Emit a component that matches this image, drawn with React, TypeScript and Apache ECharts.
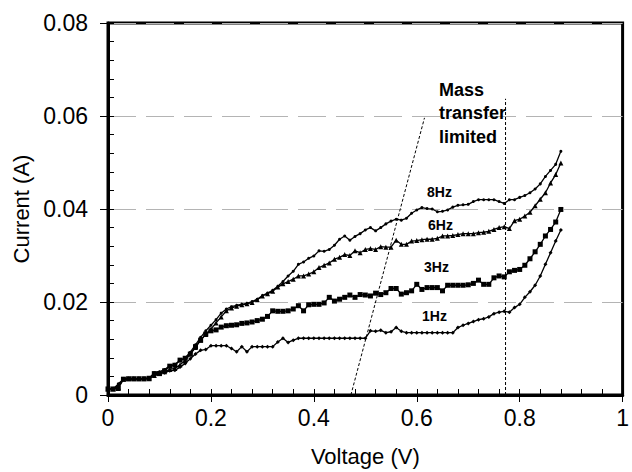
import React, { useEffect, useRef } from "react";
import * as echarts from "echarts";

const voltage = [
  0.00, 0.01, 0.02, 0.03, 0.04, 0.05, 0.06, 0.07, 0.08, 0.09,
  0.10, 0.11, 0.12, 0.13, 0.14, 0.15, 0.16, 0.17, 0.18, 0.19,
  0.20, 0.21, 0.22, 0.23, 0.24, 0.25, 0.26, 0.27, 0.28, 0.29,
  0.30, 0.31, 0.32, 0.33, 0.34, 0.35, 0.36, 0.37, 0.38, 0.39,
  0.40, 0.41, 0.42, 0.43, 0.44, 0.45, 0.46, 0.47, 0.48, 0.49,
  0.50, 0.51, 0.52, 0.53, 0.54, 0.55, 0.56, 0.57, 0.58, 0.59,
  0.60, 0.61, 0.62, 0.63, 0.64, 0.65, 0.66, 0.67, 0.68, 0.69,
  0.70, 0.71, 0.72, 0.73, 0.74, 0.75, 0.76, 0.77, 0.78, 0.79,
  0.80, 0.81, 0.82, 0.83, 0.84, 0.85, 0.86, 0.87, 0.88,
];

const current1Hz = [
  0.0013, 0.0013, 0.0020, 0.0034, 0.0035, 0.0035, 0.0035, 0.0035, 0.0036,
  0.0045, 0.0046, 0.0048, 0.0052, 0.0053, 0.0060, 0.0068, 0.0078, 0.0088, 0.0096, 0.0098, 0.0106,
  0.0106, 0.0106, 0.0106, 0.0100, 0.0093, 0.0104, 0.0093, 0.0104, 0.0104, 0.0104, 0.0104, 0.0104,
  0.0114, 0.0122, 0.0113, 0.0118, 0.0122, 0.0122, 0.0122, 0.0122, 0.0122, 0.0122, 0.0122, 0.0122, 0.0122, 0.0122, 0.0122, 0.0122, 0.0122,
  0.0122,
  0.0138, 0.0137, 0.0139, 0.0134, 0.0136, 0.0145, 0.0137, 0.0134, 0.0134,
  0.0134, 0.0134, 0.0134, 0.0134, 0.0134, 0.0134, 0.0134, 0.0134,
  0.0145, 0.0150, 0.0154, 0.0158, 0.0162, 0.0164, 0.0168, 0.0175, 0.0178, 0.0180, 0.0178, 0.0188,
  0.0195, 0.0210, 0.0222, 0.0236, 0.0256, 0.0281, 0.0306, 0.0331, 0.0355,
];

const current3Hz = [
  0.0013, 0.0013, 0.0014, 0.0034, 0.0035, 0.0035, 0.0035, 0.0035, 0.0036,
  0.0046, 0.0046, 0.0052, 0.0062, 0.0064, 0.0075, 0.0079, 0.0088, 0.0104, 0.0118, 0.0131, 0.0138,
  0.0140, 0.0146, 0.0149, 0.0150, 0.0151, 0.0154, 0.0155, 0.0157, 0.0160, 0.0163,
  0.0169, 0.0181, 0.0180, 0.0180, 0.0181, 0.0185, 0.0192, 0.0181, 0.0194, 0.0195,
  0.0195, 0.0198, 0.0210, 0.0202, 0.0206, 0.0210, 0.0215, 0.0210, 0.0216, 0.0215,
  0.0213, 0.0219, 0.0216, 0.0220, 0.0229, 0.0229, 0.0217, 0.0220, 0.0224, 0.0238,
  0.0227, 0.0231, 0.0231, 0.0231, 0.0224, 0.0236, 0.0236, 0.0236, 0.0236, 0.0237,
  0.0240, 0.0247, 0.0238, 0.0238, 0.0252, 0.0256, 0.0254, 0.0265, 0.0268, 0.0270,
  0.0279, 0.0293, 0.0308, 0.0324, 0.0342, 0.0356, 0.0372, 0.0399,
];

const current6Hz = [
  0.0013, 0.0013, 0.0016, 0.0034, 0.0035, 0.0035, 0.0035, 0.0035, 0.0035,
  0.0042, 0.0048, 0.0050, 0.0055, 0.0057, 0.0065, 0.0074, 0.0088, 0.0102, 0.0118, 0.0130, 0.0142,
  0.0155, 0.0168, 0.0181, 0.0187, 0.0191, 0.0194, 0.0196, 0.0199, 0.0205, 0.0213,
  0.0218, 0.0223, 0.0232, 0.0239, 0.0244, 0.0249, 0.0256, 0.0256, 0.0260, 0.0265,
  0.0274, 0.0279, 0.0284, 0.0292, 0.0296, 0.0302, 0.0300, 0.0310, 0.0306, 0.0313,
  0.0315, 0.0313, 0.0319, 0.0318, 0.0318, 0.0333, 0.0324, 0.0324, 0.0331, 0.0332,
  0.0334, 0.0335, 0.0335, 0.0337, 0.0342, 0.0342, 0.0343, 0.0345, 0.0347, 0.0347,
  0.0347, 0.0349, 0.0350, 0.0352, 0.0356, 0.0360, 0.0362, 0.0358, 0.0375, 0.0378,
  0.0385, 0.0393, 0.0407, 0.0421, 0.0435, 0.0456, 0.0474, 0.0499,
];

const current8Hz = [
  0.0013, 0.0013, 0.0024, 0.0034, 0.0035, 0.0035, 0.0035, 0.0035, 0.0036,
  0.0048, 0.0050, 0.0055, 0.0063, 0.0066, 0.0074, 0.0080, 0.0092, 0.0108, 0.0124, 0.0138, 0.0150,
  0.0162, 0.0176, 0.0185, 0.0190, 0.0193, 0.0195, 0.0197, 0.0201, 0.0206, 0.0214,
  0.0219, 0.0225, 0.0234, 0.0244, 0.0256, 0.0266, 0.0281, 0.0286, 0.0294, 0.0299,
  0.0310, 0.0309, 0.0313, 0.0322, 0.0335, 0.0342, 0.0333, 0.0341, 0.0347, 0.0355,
  0.0360, 0.0353, 0.0360, 0.0368, 0.0374, 0.0378, 0.0376, 0.0380, 0.0391, 0.0398,
  0.0403, 0.0401, 0.0400, 0.0394, 0.0395, 0.0398, 0.0404, 0.0408, 0.0409, 0.0410,
  0.0416, 0.0420, 0.0420, 0.0420, 0.0420, 0.0416, 0.0412, 0.0420, 0.0420, 0.0425,
  0.0429, 0.0435, 0.0443, 0.0454, 0.0470, 0.0483, 0.0496, 0.0524,
];

// Dotted guide lines (voltage, current)
const slantLineX = [0.472, 0.615];
const slantLineY = [0.0, 0.0596];
const limitLineX = [0.7725, 0.7725];
const limitLineY = [0.0, 0.0637];

const xTickLabels = ["0", "0.2", "0.4", "0.6", "0.8", "1"];
const yTickLabels = ["0", "0.02", "0.04", "0.06", "0.08"];

const FONT = "'Liberation Sans', Arial, Helvetica, sans-serif";

export default function App() {
  const ref = useRef<HTMLDivElement>(null);

  useEffect(() => {
    document.body.style.margin = "0";
    if (!ref.current) return;
    const chart = echarts.init(ref.current, undefined, { renderer: "svg" });

    const pair = (ys: number[]) => voltage.map((v, i) => [v, ys[i]]);
    const pairXY = (xs: number[], ys: number[]) => xs.map((v, i) => [v, ys[i]]);

    const lineSeries = (name: string, ys: number[], symbol: string, size: number) => ({
      name,
      type: "line",
      xAxisIndex: 0,
      yAxisIndex: 0,
      data: pair(ys),
      symbol,
      symbolSize: size,
      showSymbol: true,
      lineStyle: { color: "#000", width: 1.3 },
      itemStyle: { color: "#000", borderColor: "#000", borderWidth: 0 },
      z: 3,
    });

    const guide = (name: string, xs: number[], ys: number[]) => ({
      name,
      type: "line",
      xAxisIndex: 0,
      yAxisIndex: 0,
      data: pairXY(xs, ys),
      symbol: "none",
      lineStyle: { color: "#000", width: 1, type: [3, 2] },
      z: 2,
    });

    const labelText = (text: string, left: number, top: number, size: number) => ({
      type: "text",
      left,
      top,
      style: {
        text,
        font: `bold ${size}px ${FONT}`,
        fill: "#000",
      },
      z: 10,
    });

    chart.setOption({
      animation: false,
      backgroundColor: "#fff",
      textStyle: { fontFamily: FONT },
      grid: {
        left: 108,
        right: 4,
        top: 23,
        bottom: 76,
        show: true,
        borderColor: "#000",
        borderWidth: 3,
        backgroundColor: "transparent",
      },
      xAxis: [
        {
          type: "value",
          position: "bottom",
          min: 0,
          max: 1,
          interval: 0.2,
          name: "Voltage (V)",
          nameLocation: "middle",
          nameGap: 50,
          nameTextStyle: { fontSize: 22, color: "#000", fontFamily: FONT },
          axisLine: { show: true, onZero: false, lineStyle: { color: "#000", width: 3 } },
          axisTick: { show: true, inside: false, length: 7, lineStyle: { color: "#000", width: 1 } },
          axisLabel: {
            fontSize: 23,
            color: "#000",
            margin: 11,
            fontFamily: FONT,
            formatter: (v: number) => xTickLabels[Math.round(v / 0.2)] ?? "",
          },
          splitLine: { show: false },
        },
        {
          type: "value",
          position: "bottom",
          min: 0,
          max: 1,
          interval: 0.04,
          axisLine: { show: false },
          axisTick: { show: true, inside: true, length: 6, lineStyle: { color: "#000", width: 1 } },
          axisLabel: { show: false },
          splitLine: { show: false },
        },
      ],
      yAxis: [
        {
          type: "value",
          position: "left",
          min: 0,
          max: 0.08,
          interval: 0.02,
          name: "Current (A)",
          nameLocation: "middle",
          nameRotate: 90,
          nameGap: 75,
          nameTextStyle: { fontSize: 22, color: "#000", fontFamily: FONT },
          axisLine: { show: true, onZero: false, lineStyle: { color: "#000", width: 3 } },
          axisTick: { show: true, inside: false, length: 8, lineStyle: { color: "#000", width: 1 } },
          axisLabel: {
            fontSize: 23,
            color: "#000",
            margin: 20,
            fontFamily: FONT,
            formatter: (v: number) => yTickLabels[Math.round(v / 0.02)] ?? "",
          },
          splitLine: {
            show: true,
            lineStyle: { color: "#b4b4b4", width: 1, type: [28, 10] },
          },
        },
        {
          type: "value",
          position: "left",
          min: 0,
          max: 0.08,
          interval: 0.004,
          axisLine: { show: false },
          axisTick: { show: true, inside: true, length: 6, lineStyle: { color: "#000", width: 1 } },
          axisLabel: { show: false },
          splitLine: { show: false },
        },
      ],
      series: [
        guide("slant", slantLineX, slantLineY),
        guide("limit", limitLineX, limitLineY),
        lineSeries("1Hz", current1Hz, "diamond", 4),
        lineSeries("3Hz", current3Hz, "rect", 5),
        lineSeries("6Hz", current6Hz, "triangle", 5),
        lineSeries("8Hz", current8Hz, "circle", 3),
      ],
      graphic: [
        labelText("Mass", 439, 81, 18),
        labelText("transfer", 439, 104, 18),
        labelText("limited", 439, 128, 18),
        labelText("8Hz", 427, 185, 14),
        labelText("6Hz", 428, 218, 14),
        labelText("3Hz", 424, 260, 14),
        labelText("1Hz", 422, 309, 14),
      ],
    });

    return () => chart.dispose();
  }, []);

  return <div ref={ref} style={{ width: 632, height: 472 }} />;
}
